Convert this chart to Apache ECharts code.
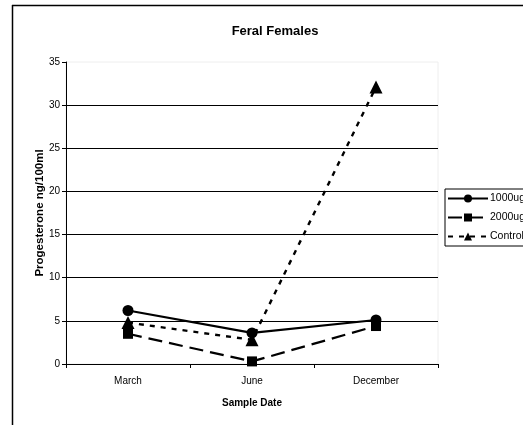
<!DOCTYPE html>
<html>
<head>
<meta charset="utf-8">
<script src="https://cdn.jsdelivr.net/npm/echarts@6/dist/echarts.min.js"></script>
<style>html,body{margin:0;padding:0;background:#fff;}#c{width:523px;height:425px;}</style>
</head>
<body>
<div id="c"></div>
<script>
var categories = ['March', 'June', 'December'];
var s1000 = [6.2, 3.6, 5.1];
var s2000 = [3.5, 0.3, 4.4];
var control = [4.8, 2.8, 32.1];
var yTicks = [0, 5, 10, 15, 20, 25, 30, 35];

var chart = echarts.init(document.getElementById('c'), null, {renderer: 'canvas'});
var font = 'Liberation Sans, Arial, sans-serif';
chart.setOption({
  animation: false,
  backgroundColor: '#fff',
  title: {
    text: 'Feral Females', left: 270, top: 20, textAlign: 'center',
    textStyle: {fontFamily: font, fontSize: 13, fontWeight: 'bold', color: '#000'}
  },
  grid: {left: 66, top: 62, right: 85, bottom: 61, show: true, borderColor: '#eee', borderWidth: 1},
  legend: {
    left: 445, top: 189, orient: 'vertical', itemGap: 8, itemWidth: 40, itemHeight: 10,
    borderColor: '#000', borderWidth: 1, padding: [4, 6, 4, 2],
    textStyle: {fontFamily: font, fontSize: 10.5, color: '#000', padding: [0, 0, 0, -3]},
    data: ['1000ug', '2000ug', 'Control']
  },
  xAxis: {
    type: 'category', data: categories, boundaryGap: true,
    name: 'Sample Date', nameLocation: 'middle', nameGap: 34, nameMoveOverlap: false,
    nameTextStyle: {fontFamily: font, fontSize: 10, fontWeight: 'bold', color: '#000'},
    axisLine: {lineStyle: {color: '#000', width: 1}},
    axisTick: {show: true, inside: false, length: 4, lineStyle: {color: '#000'}},
    axisLabel: {fontFamily: font, fontSize: 10, color: '#000', margin: 12}
  },
  yAxis: {
    type: 'value', min: 0, max: 35, interval: 5,
    name: 'Progesterone ng/100ml', nameLocation: 'middle', nameGap: 20, nameMoveOverlap: false,
    nameTextStyle: {fontFamily: font, fontSize: 11.5, fontWeight: 'bold', color: '#000'},
    axisLine: {show: true, lineStyle: {color: '#000', width: 1}},
    axisTick: {show: true, length: 4, lineStyle: {color: '#000'}},
    axisLabel: {fontFamily: font, fontSize: 10, color: '#000', margin: 6,
      formatter: function (v) { return yTicks.indexOf(v) >= 0 ? String(v) : ''; }},
    splitLine: {show: true, showMaxLine: false, lineStyle: {color: '#000', width: 1}}
  },
  series: [
    {name: '1000ug', type: 'line', data: s1000, symbol: 'circle', symbolSize: 11,
      lineStyle: {color: '#000', width: 2.2, type: 'solid'}, itemStyle: {color: '#000'}},
    {name: '2000ug', type: 'line', data: s2000, symbol: 'rect', symbolSize: 10,
      lineStyle: {color: '#000', width: 2.2, type: [14, 7]}, itemStyle: {color: '#000'}},
    {name: 'Control', type: 'line', data: control, symbol: 'triangle', symbolSize: 13,
      lineStyle: {color: '#000', width: 2.4, type: [5, 6]}, itemStyle: {color: '#000'}}
  ],
  graphic: [
    {type: 'line', shape: {x1: 12.5, y1: 5, x2: 12.5, y2: 425}, style: {stroke: '#000', lineWidth: 1.5}},
    {type: 'line', shape: {x1: 12, y1: 5.5, x2: 523, y2: 5.5}, style: {stroke: '#000', lineWidth: 1.5}}
  ]
});
</script>
</body>
</html>
